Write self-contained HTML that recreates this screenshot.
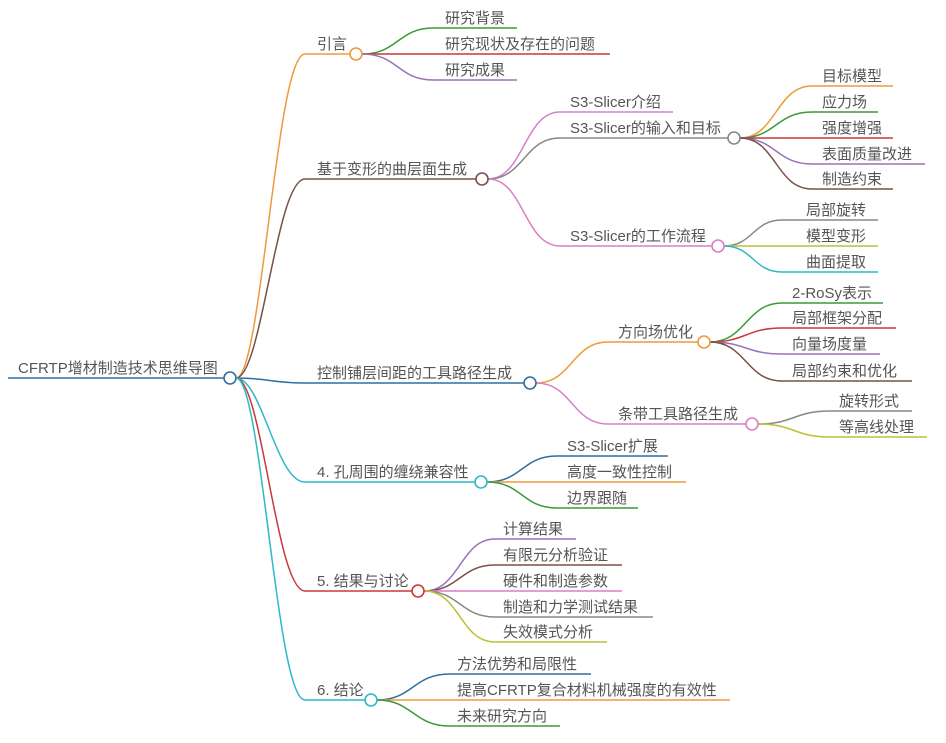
<!DOCTYPE html>
<html><head><meta charset="utf-8"><style>
html,body{margin:0;padding:0;background:#fff;}
svg{display:block}
text{font-family:"Liberation Sans","Noto Sans CJK SC",sans-serif;font-size:15px;fill:#555;}
path{fill:none;stroke-width:1.5}
circle{fill:#fff;stroke-width:1.6}
</style></head><body>
<svg width="946" height="743" viewBox="0 0 946 743" xmlns="http://www.w3.org/2000/svg">
<!-- root -->
<path d="M8 378 H224" stroke="#2f6f9f" stroke-width="2.2"/>
<text x="18" y="373">CFRTP增材制造技术思维导图</text>

<!-- level 1 connectors -->
<path d="M236 378 C262 378,276 54,305 54 H350" stroke="#ef9a3a"/>
<path d="M236 378 C262 378,276 179,305 179 H476" stroke="#7a5046"/>
<path d="M236 378 C270 378,270 383,305 383 H524" stroke="#2f6f9f"/>
<path d="M236 378 C262 378,276 482,305 482 H475" stroke="#2fb8c8"/>
<path d="M236 378 C262 378,276 591,305 591 H412" stroke="#c7383a"/>
<path d="M236 378 C262 378,276 700,305 700 H365" stroke="#2fb8c8"/>
<circle cx="230" cy="378" r="6" stroke="#2f6f9f"/>

<text x="317" y="49">引言</text>
<text x="317" y="174">基于变形的曲层面生成</text>
<text x="317" y="378">控制铺层间距的工具路径生成</text>
<text x="317" y="477">4. 孔周围的缠绕兼容性</text>
<text x="317" y="586">5. 结果与讨论</text>
<text x="317" y="695">6. 结论</text>

<!-- 引言 children -->
<path d="M362 54 C398 54,398 28,433 28 H517" stroke="#3a9a3a"/>
<path d="M362 54 C398 54,398 54,433 54 H610" stroke="#c7383a"/>
<path d="M362 54 C398 54,398 80,433 80 H517" stroke="#9b72b8"/>
<circle cx="356" cy="54" r="6" stroke="#ef9a3a"/>
<text x="445" y="23">研究背景</text>
<text x="445" y="49">研究现状及存在的问题</text>
<text x="445" y="75">研究成果</text>

<!-- 基于变形 children -->
<path d="M488 179 C524 179,524 112,560 112 H673" stroke="#d97fc7"/>
<path d="M488 179 C524 179,524 138,560 138 H728" stroke="#888"/>
<path d="M488 179 C524 179,524 246,560 246 H712" stroke="#d97fc7"/>
<circle cx="482" cy="179" r="6" stroke="#7a5046"/>
<text x="570" y="107">S3-Slicer介绍</text>
<text x="570" y="133">S3-Slicer的输入和目标</text>
<text x="570" y="241">S3-Slicer的工作流程</text>

<path d="M740 138 C776 138,776 86,812 86 H893" stroke="#ef9a3a"/>
<path d="M740 138 C776 138,776 112,812 112 H878" stroke="#3a9a3a"/>
<path d="M740 138 C776 138,776 138,812 138 H893" stroke="#c7383a"/>
<path d="M740 138 C776 138,776 164,812 164 H925" stroke="#9b72b8"/>
<path d="M740 138 C776 138,776 189,812 189 H893" stroke="#7a5046"/>
<circle cx="734" cy="138" r="6" stroke="#888"/>
<text x="822" y="81">目标模型</text>
<text x="822" y="107">应力场</text>
<text x="822" y="133">强度增强</text>
<text x="822" y="159">表面质量改进</text>
<text x="822" y="184">制造约束</text>

<path d="M724 246 C753 246,753 220,782 220 H878" stroke="#888"/>
<path d="M724 246 C753 246,753 246,782 246 H878" stroke="#bcc036"/>
<path d="M724 246 C753 246,753 272,782 272 H878" stroke="#2fb8c8"/>
<circle cx="718" cy="246" r="6" stroke="#d97fc7"/>
<text x="806" y="215">局部旋转</text>
<text x="806" y="241">模型变形</text>
<text x="806" y="267">曲面提取</text>

<!-- 控制 children -->
<path d="M536 383 C572 383,572 342,608 342 H698" stroke="#ef9a3a"/>
<path d="M536 383 C572 383,572 424,608 424 H746" stroke="#d97fc7"/>
<circle cx="530" cy="383" r="6" stroke="#2f6f9f"/>
<text x="618" y="337">方向场优化</text>
<text x="618" y="419">条带工具路径生成</text>

<path d="M710 342 C746 342,746 303,782 303 H883" stroke="#3a9a3a"/>
<path d="M710 342 C746 342,746 328,782 328 H896" stroke="#c7383a"/>
<path d="M710 342 C746 342,746 354,782 354 H880" stroke="#9b72b8"/>
<path d="M710 342 C746 342,746 381,782 381 H912" stroke="#7a5046"/>
<circle cx="704" cy="342" r="6" stroke="#ef9a3a"/>
<text x="792" y="298">2-RoSy表示</text>
<text x="792" y="323">局部框架分配</text>
<text x="792" y="349">向量场度量</text>
<text x="792" y="376">局部约束和优化</text>

<path d="M758 424 C794 424,794 411,830 411 H912" stroke="#888"/>
<path d="M758 424 C794 424,794 437,830 437 H927" stroke="#bcc036"/>
<circle cx="752" cy="424" r="6" stroke="#d97fc7"/>
<text x="839" y="406">旋转形式</text>
<text x="839" y="432">等高线处理</text>

<!-- 4. children -->
<path d="M487 482 C522 482,522 456,557 456 H668" stroke="#2f6f9f"/>
<path d="M487 482 C522 482,522 482,557 482 H686" stroke="#ef9a3a"/>
<path d="M487 482 C522 482,522 508,557 508 H638" stroke="#3a9a3a"/>
<circle cx="481" cy="482" r="6" stroke="#2fb8c8"/>
<text x="567" y="451">S3-Slicer扩展</text>
<text x="567" y="477">高度一致性控制</text>
<text x="567" y="503">边界跟随</text>

<!-- 5. children -->
<path d="M424 591 C460 591,460 539,495 539 H576" stroke="#9b72b8"/>
<path d="M424 591 C460 591,460 565,495 565 H622" stroke="#7a5046"/>
<path d="M424 591 C460 591,460 591,495 591 H622" stroke="#d97fc7"/>
<path d="M424 591 C460 591,460 617,495 617 H653" stroke="#888"/>
<path d="M424 591 C460 591,460 642,495 642 H607" stroke="#bcc036"/>
<circle cx="418" cy="591" r="6" stroke="#c7383a"/>
<text x="503" y="534">计算结果</text>
<text x="503" y="560">有限元分析验证</text>
<text x="503" y="586">硬件和制造参数</text>
<text x="503" y="612">制造和力学测试结果</text>
<text x="503" y="637">失效模式分析</text>

<!-- 6. children -->
<path d="M377 700 C413 700,413 674,450 674 H591" stroke="#2f6f9f"/>
<path d="M377 700 C413 700,413 700,450 700 H730" stroke="#ef9a3a"/>
<path d="M377 700 C413 700,413 726,450 726 H560" stroke="#3a9a3a"/>
<circle cx="371" cy="700" r="6" stroke="#2fb8c8"/>
<text x="457" y="669">方法优势和局限性</text>
<text x="457" y="695">提高CFRTP复合材料机械强度的有效性</text>
<text x="457" y="721">未来研究方向</text>
</svg>
</body></html>
